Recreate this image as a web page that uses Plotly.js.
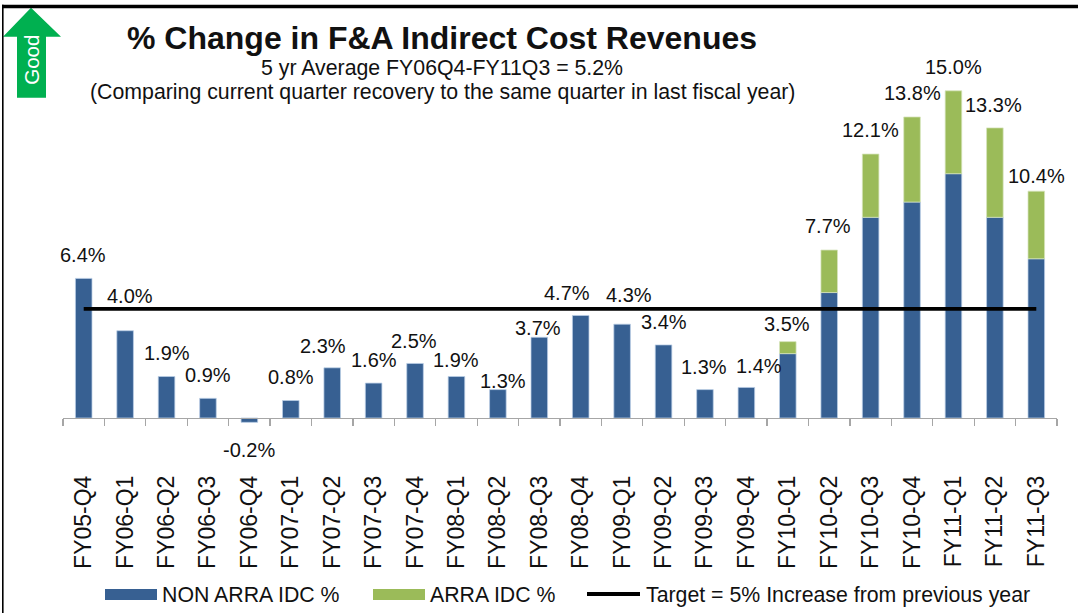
<!DOCTYPE html>
<html>
<head>
<meta charset="utf-8">
<script src="https://cdn.plot.ly/plotly-3.0.1.min.js"></script>
<style>html,body{margin:0;padding:0;background:#fff;overflow:hidden}#chart{width:1078px;height:613px}</style>
</head>
<body>
<div id="chart"></div>
<script>
const categories = ["FY05-Q4","FY06-Q1","FY06-Q2","FY06-Q3","FY06-Q4","FY07-Q1","FY07-Q2","FY07-Q3","FY07-Q4","FY08-Q1","FY08-Q2","FY08-Q3","FY08-Q4","FY09-Q1","FY09-Q2","FY09-Q3","FY09-Q4","FY10-Q1","FY10-Q2","FY10-Q3","FY10-Q4","FY11-Q1","FY11-Q2","FY11-Q3"];
const nonArra = [6.4,4.0,1.9,0.9,-0.2,0.8,2.3,1.6,2.5,1.9,1.3,3.7,4.7,4.3,3.35,1.3,1.4,2.95,5.75,9.2,9.9,11.2,9.2,7.3];
const arra = [null,null,null,null,null,null,null,null,null,null,null,null,null,null,null,null,null,0.55,1.95,2.9,3.9,3.8,4.1,3.1];
const totals = [6.4,4.0,1.9,0.9,-0.2,0.8,2.3,1.6,2.5,1.9,1.3,3.7,4.7,4.3,3.4,1.3,1.4,3.5,7.7,12.1,13.8,15.0,13.3,10.4];
const target = categories.map(() => 5);
const seriesNames = ["NON ARRA IDC %","ARRA IDC %","Target = 5% Increase from previous year"];
const titleText = "% Change in F&A Indirect Cost Revenues";
const subtitle1 = "5 yr Average FY06Q4-FY11Q3 = 5.2%";
const subtitle2 = "(Comparing current quarter recovery to the same quarter in last fiscal year)";
// label nudges in pixels, kept apart from the data
const labelDx = [-1,5,0,0,0,0,-9,0,-1,0,5,-1,-14,7,0,-1,13,-1,-1,0,0,0,-1,0];
const labelDy = [23.5,35,24,23,-28,24,22,23,22,17,9,9,22,29,22,23,21,18,24,24,24,24,23,15];

const L=63,R=1057,T=69.2,B=470,W=1078,H=613,UNIT=21.8;
const fx=x=>(x-L)/(R-L), fy=y=>(B-y)/(B-T);
const yMin=-(B-418)/UNIT, yMax=(418-T)/UNIT;
const BLUE="#376092",GREEN="#9BBB59",FONT="Liberation Sans, Arial, sans-serif",TXT="#111111";

const traces=[
 {type:"bar",name:seriesNames[0],x:categories,y:nonArra,width:0.4,marker:{color:BLUE,line:{color:"rgba(185,205,229,0.75)",width:1}},hoverinfo:"x+y"},
 {type:"bar",name:seriesNames[1],x:categories,y:arra,width:0.4,marker:{color:GREEN,line:{color:"rgba(215,228,188,0.75)",width:1}},hoverinfo:"x+y"},
 {type:"scatter",mode:"lines",name:seriesNames[2],x:categories,y:target,xaxis:"x2",line:{color:"#000",width:3.6},hoverinfo:"x+y"}
];

const ann=[];
const textAt=(x,y,text,size,extra)=>ann.push(Object.assign({xref:"paper",yref:"paper",x:fx(x),y:fy(y),text,showarrow:false,xanchor:"center",yanchor:"middle",font:{family:FONT,size,color:TXT}},extra||{}));
totals.forEach((v,i)=>ann.push({xref:"x",yref:"y",x:categories[i],y:v,text:v.toFixed(1)+"%",showarrow:false,xanchor:"center",yanchor:"middle",xshift:labelDx[i],yshift:labelDy[i],font:{family:FONT,size:20,color:TXT}}));
textAt(442,68,subtitle1,21.3);
textAt(442,92,subtitle2,21.3);
textAt(32,60,"Good",20.5,{textangle:-90,font:{family:FONT,size:20.5,color:"#fff"}});
textAt(160,595,seriesNames[0],21.3,{xanchor:"left"});
textAt(428,595,seriesNames[1],21.3,{xanchor:"left"});
textAt(644,595,seriesNames[2],21.3,{xanchor:"left"});

const rect=(x0,y0,x1,y1,color)=>({type:"rect",xref:"paper",yref:"paper",x0:fx(x0),x1:fx(x1),y0:fy(y0),y1:fy(y1),fillcolor:color,line:{width:0},layer:"above"});
const arrowPts=[[31,8],[61,37],[46,37],[46,98],[17,98],[17,37],[3,37]];
const arrowPath="M"+arrowPts.map(p=>fx(p[0])+","+fy(p[1])).join("L")+"Z";
const shapes=[
 rect(2,5,3.6,613,"#000"),
 rect(2,5,1078,8.6,"#000"),
 {type:"path",xref:"paper",yref:"paper",path:arrowPath,fillcolor:"#00B050",line:{width:0},layer:"below"},
 rect(105,589,157,600,BLUE),
 rect(373,589,425,600,GREEN),
 rect(587,592,640,596,"#000")
];

const layout={
 width:W,height:H,paper_bgcolor:"#fff",plot_bgcolor:"rgba(0,0,0,0)",
 margin:{l:L,r:W-R,t:T,b:H-B,pad:0,autoexpand:false},
 barmode:"relative",showlegend:false,
 title:{text:titleText,x:442/W,xref:"container",xanchor:"center",y:1-38/H,yref:"container",yanchor:"middle",font:{family:FONT,size:32,color:TXT,weight:700}},
 xaxis:{type:"category",categoryorder:"array",categoryarray:categories,range:[-0.5,23.5],fixedrange:true,showgrid:false,zeroline:false,showline:false,ticks:"",tickangle:-90,tickfont:{family:FONT,size:23,color:TXT},automargin:false},
 xaxis2:{type:"category",categoryorder:"array",categoryarray:categories,range:[-0.5,23.5],overlaying:"x",anchor:"free",position:(0-yMin)/(yMax-yMin),side:"bottom",fixedrange:true,showgrid:false,zeroline:false,showline:true,linecolor:"#a6a6a6",linewidth:1.3,ticks:"outside",tickson:"boundaries",ticklen:7,tickwidth:1.2,tickcolor:"#a6a6a6",showticklabels:false},
 yaxis:{range:[yMin,yMax],visible:false,fixedrange:true,zeroline:false,showgrid:false},
 annotations:ann,shapes:shapes
};
Plotly.newPlot("chart",traces,layout,{displayModeBar:false,staticPlot:true});
</script>
</body>
</html>
